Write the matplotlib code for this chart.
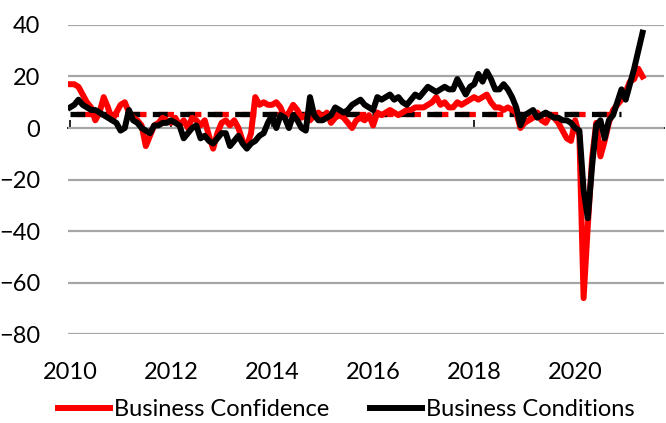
import numpy as np
import pandas as pd
import matplotlib
matplotlib.use("Agg")
import matplotlib.pyplot as plt

plt.rcParams['font.family'] = ['Lato', 'DejaVu Sans']

# monthly readings, Jan 2010 - May 2021
confidence = [
    17, 17, 16, 13, 10, 8, 3, 6, 12, 8, 3, 6,          # 2010
    9, 10, 6, 4, 3, 1, -7, -3, 1, 2, 4, 3,             # 2011
    2, 4, 1, 3, 0, 4, 3, 1, 3, -3, -8, -2,             # 2012
    2, 3, 1, 3, 0, -5, -7, -2, 12, 9, 10, 9,           # 2013
    9, 10, 8, 4, 6, 9, 7, 4, 5, 3, 5, 6,               # 2014
    4, 6, 2, 4, 5, 4, 2, 0, 3, 4, 3, 5,                # 2015
    1, 6, 5, 6, 7, 6, 5, 6, 7, 7, 8, 8,                # 2016
    8, 9, 10, 12, 9, 10, 8, 8, 10, 9, 10, 11,          # 2017
    12, 11, 12, 13, 10, 8, 8, 7, 8, 7, 6, 0,           # 2018
    2, 3, 4, 6, 3, 2, 5, 4, 2, -1, -4, -5,             # 2019
    3, -3, -66, -38, -12, 2, -11, -5, 2, 7, 9, 11,     # 2020
    14, 18, 19, 23, 20,                                # 2021
]
conditions = [
    8, 9, 11, 9, 8, 7, 7, 6, 5, 4, 3, 2,               # 2010
    -1, 0, 7, 3, 2, 0, -1, -2, 1, 1, 2, 2,             # 2011
    3, 2, 1, -4, -2, 0, 1, -4, -3, -5, -6, -4,         # 2012
    -2, -2, -7, -5, -3, -6, -8, -6, -5, -3, -2, 2,     # 2013
    5, 0, 5, 4, 0, 5, 3, 0, -1, 12, 5, 3,              # 2014
    3, 4, 5, 8, 7, 6, 7, 9, 10, 11, 9, 8,              # 2015
    7, 12, 11, 12, 13, 11, 12, 10, 9, 11, 13, 12,      # 2016
    14, 16, 15, 14, 15, 16, 15, 15, 19, 16, 13, 16,    # 2017
    17, 21, 18, 22, 19, 15, 15, 17, 15, 12, 8, 1,      # 2018
    5, 6, 7, 4, 5, 6, 5, 4, 4, 3, 3, 2,                # 2019
    0, -1, -24, -35, -15, 1, 3, -4, 3, 5, 10, 15,      # 2020
    11, 17, 23, 30, 37,                                # 2021
]
avg_confidence = 5.5
avg_conditions = 5.5
avg_months = 132

dates = pd.date_range('2010-01-01', periods=len(confidence), freq='MS')
month_idx = np.arange(len(dates))
tick_years = [2010, 2012, 2014, 2016, 2018, 2020]
tick_pos = [(y - 2010) * 12 for y in tick_years]

fig = plt.figure(figsize=(6.66, 4.23), dpi=100)
ax = fig.add_axes([0.102, 0.21, 0.895, 0.731])

ax.set_ylim(-80, 40)
ax.set_xlim(-0.5, 141.1)
ax.set_yticks(range(-80, 41, 20))
ax.yaxis.grid(True, color='#a6a6a6', lw=1.6)
ax.set_axisbelow(True)
for s in ax.spines.values():
    s.set_visible(False)
ax.tick_params(axis='y', length=0, labelsize=17, pad=20)
ax.set_xticks(tick_pos)
ax.set_xticklabels([str(y) for y in tick_years])
ax.tick_params(axis='x', length=0, labelsize=17, pad=20)

# zero axis with tick marks
zero = ax.secondary_xaxis(80 / 120)
zero.set_xticks(tick_pos)
zero.tick_params(axis='x', direction='out', length=6, width=1.2, labeltop=False, labelbottom=False)
zero.spines['top'].set_linewidth(1.3)
zero.spines['bottom'].set_linewidth(1.3)

# long-run averages
avg_x = month_idx[:avg_months]
ax.plot(avg_x, [avg_confidence] * len(avg_x), color='red', lw=3.8,
        linestyle=(4, (2.8, 2.4)), zorder=2)
ax.plot(avg_x, [avg_conditions] * len(avg_x), color='black', lw=3.8,
        linestyle=(0, (2.8, 2.4)), zorder=2)

ax.plot(month_idx, confidence, color='red', lw=4.3, label='Business Confidence', zorder=3)
ax.plot(month_idx, conditions, color='black', lw=4.3, label='Business Conditions', zorder=4)

fig.legend(loc='center', bbox_to_anchor=(0.52, 0.031), ncol=2, frameon=False,
           fontsize=17, handlelength=2.2, handletextpad=0.2, columnspacing=1.7)

fig.savefig('out.png', dpi=100)
